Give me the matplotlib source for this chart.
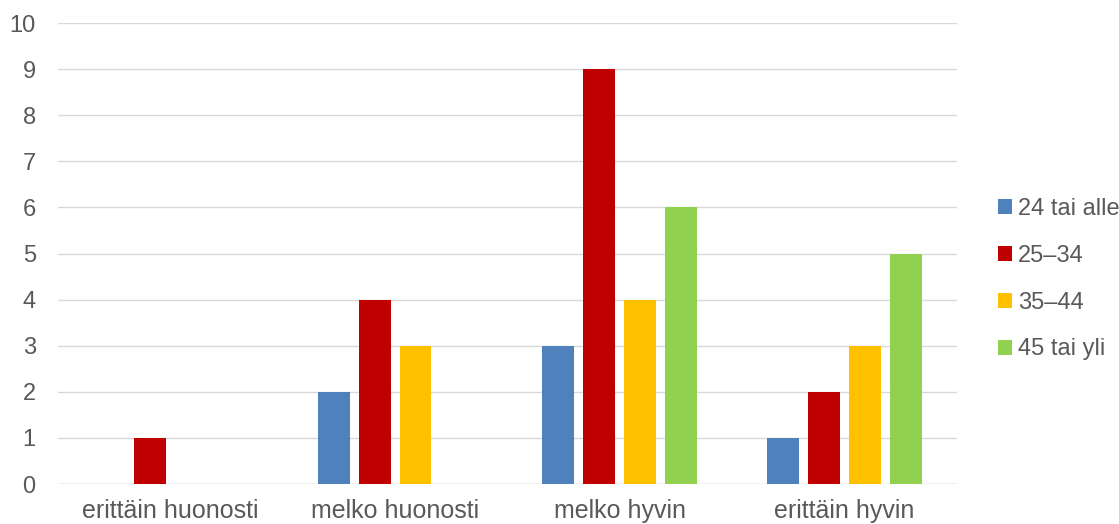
import numpy as np
import matplotlib.pyplot as plt

plt.rcParams['font.family'] = ['Liberation Sans', 'DejaVu Sans']

categories = ["erittäin huonosti", "melko huonosti", "melko hyvin", "erittäin hyvin"]
series_names = ["24 tai alle", "25–34", "35–44", "45 tai yli"]
v_24 = [0, 2, 3, 1]
v_25_34 = [1, 4, 9, 2]
v_35_44 = [0, 3, 4, 3]
v_45 = [0, 0, 6, 5]
colors = ["#4F81BD", "#C00000", "#FFC000", "#92D050"]
text_col = "#595959"

fig = plt.figure(figsize=(11.19, 5.24), dpi=100)
ax = fig.add_axes([0.0518, 0.0763, 0.8032, 0.8797])

x = np.arange(len(categories))
w = 0.142
step = 0.182
for i, (vals, name, c) in enumerate(zip([v_24, v_25_34, v_35_44, v_45], series_names, colors)):
    ax.bar(x + (i - 1.5) * step, vals, width=w, color=c, label=name, zorder=3)

ax.set_xlim(-0.5, 3.5)
ax.set_ylim(0, 10)
ax.set_yticks(range(0, 11))
ax.set_xticks(x)
ax.set_xticklabels(categories, fontsize=18)
ax.grid(axis="y", color="#D9D9D9", linewidth=1, zorder=0)
for s in ax.spines.values():
    s.set_visible(False)
ax.tick_params(axis="both", length=0, labelsize=17, colors=text_col)
ax.tick_params(axis="x", pad=11, labelsize=18)
ax.tick_params(axis="y", pad=16)
ax.axhline(0, color="#D9D9D9", linewidth=1, zorder=1)

leg = ax.legend(loc="center left", bbox_to_anchor=(0.892, 0.467), bbox_transform=fig.transFigure,
                frameon=False, fontsize=17, handlelength=0.6, handleheight=0.6,
                handletextpad=0.25, labelspacing=1.05, borderaxespad=0, borderpad=0)
for t in leg.get_texts():
    t.set_color(text_col)

fig.savefig("out.png", dpi=100)
